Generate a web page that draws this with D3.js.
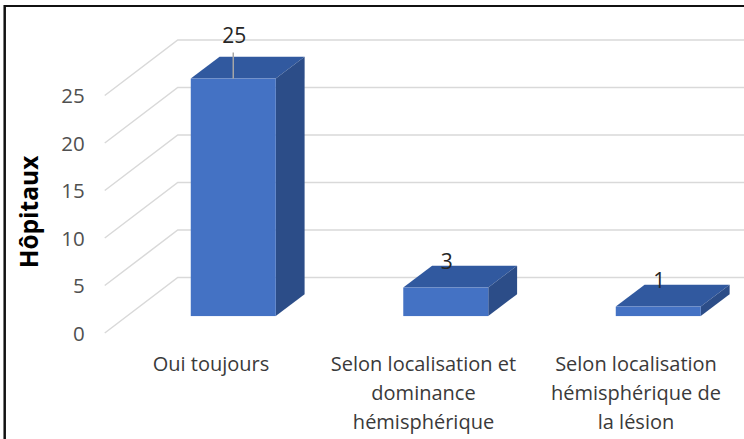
<!DOCTYPE html>
<html>
<head>
<meta charset="utf-8">
<script src="https://cdn.jsdelivr.net/npm/d3@7"></script>
<style>
  html, body { margin: 0; padding: 0; background: #fff; }
  svg { display: block; }
</style>
</head>
<body>
<svg id="chart" width="744" height="439"></svg>
<script>
// Réponses des hôpitaux
const categories = [
  ["Oui toujours"],
  ["Selon localisation et", "dominance", "hémisphérique"],
  ["Selon localisation", "hémisphérique de", "la lésion"]
];
const values = [25, 3, 1];
const yTicks = [0, 5, 10, 15, 20, 25];
const axisTitle = "Hôpitaux";

const svg = d3.select("#chart");

// Oblique projection: depth 0 = front plane, depth 1 = back wall
const DEPTH_DX = 73, DEPTH_DY = -55.5;
const BAR_D0 = 0.305, BAR_D1 = 0.70;
const proj = (x, y, d) => [x + d * DEPTH_DX, y + d * DEPTH_DY];

const x = d3.scaleBand()
  .domain(d3.range(categories.length))
  .range([104.75, 742.25]);
const barW = x.bandwidth() * 0.4;

const y = d3.scaleLinear().domain([0, 25]).range([333, 95.5]);

// Frame
svg.append("line").attr("x1", 4.5).attr("x2", 744).attr("y1", 6).attr("y2", 6)
  .attr("stroke", "#111").attr("stroke-width", 2);
svg.append("line").attr("x1", 4.7).attr("x2", 4.7).attr("y1", 5).attr("y2", 439)
  .attr("stroke", "#111").attr("stroke-width", 2.5);

// Gridlines: side wall diagonals and back wall horizontals
const x0 = x.range()[0];
const grid = svg.append("g").attr("stroke", "#d9d9d9").attr("stroke-width", 1.5).attr("fill", "none");
yTicks.forEach(t => {
  const [bx, by] = proj(x0, y(t), 1);
  const [ex] = proj(x.range()[1], y(t), 1);
  grid.append("path").attr("d", `M${x0},${y(t)}L${bx},${by}L${ex},${by}`);
});

// Y axis labels on the front plane
const yAxis = d3.axisLeft(y).tickValues(yTicks).tickSize(0).tickPadding(20);
const ag = svg.append("g").attr("transform", `translate(${x0},0)`).call(yAxis);
ag.select(".domain").remove();
ag.selectAll("text")
  .attr("font-family", "'Open Sans', sans-serif")
  .attr("font-size", 20.5)
  .attr("fill", "#505050")
  .attr("dy", "0.36em");

// Axis title
svg.append("text")
  .attr("transform", "translate(38,212) rotate(-90)")
  .attr("text-anchor", "middle")
  .attr("font-family", "'Open Sans', sans-serif")
  .attr("font-weight", "bold")
  .attr("font-size", 24.5)
  .attr("fill", "#000")
  .text(axisTitle);

// 3D columns
const bars = svg.append("g");
values.forEach((v, i) => {
  const cx = x(i) + x.bandwidth() / 2;
  const l = cx - barW / 2, r = cx + barW / 2;
  const top = y(v), bot = y(0);
  const P = (px, py, d) => proj(px, py, d).join(",");
  // top face
  bars.append("path")
    .attr("d", `M${P(l, top, BAR_D0)}L${P(r, top, BAR_D0)}L${P(r, top, BAR_D1)}L${P(l, top, BAR_D1)}Z`)
    .attr("fill", "#31599f");
  // right side face
  bars.append("path")
    .attr("d", `M${P(r, top, BAR_D0)}L${P(r, bot, BAR_D0)}L${P(r, bot, BAR_D1)}L${P(r, top, BAR_D1)}Z`)
    .attr("fill", "#2c4d88");
  // front face
  const [fl, ft] = proj(l, top, BAR_D0);
  const [fr, fb] = proj(r, bot, BAR_D0);
  bars.append("rect")
    .attr("x", fl).attr("y", ft).attr("width", fr - fl).attr("height", fb - ft)
    .attr("fill", "#4472c4");
});

// Data labels; the tallest one sits above the back wall with a leader line
const maxV = d3.max(values);
const topBack = proj(x0, y(yTicks[yTicks.length - 1]), 1)[1];
values.forEach((v, i) => {
  const cx = x(i) + x.bandwidth() / 2;
  const [lx, ly] = proj(cx, y(v), BAR_D0);
  let base = ly - 18.6;
  if (v === maxV) {
    base = topBack + 2.5;
    svg.append("line")
      .attr("x1", lx).attr("x2", lx).attr("y1", base + 10).attr("y2", ly)
      .attr("stroke", "#a6a6a6").attr("stroke-width", 1.5);
  }
  svg.append("text")
    .attr("x", lx + 1).attr("y", base)
    .attr("text-anchor", "middle")
    .attr("font-family", "'Open Sans', sans-serif")
    .attr("font-size", 21)
    .attr("fill", "#262626")
    .text(v);
});

// Category labels
categories.forEach((lines, i) => {
  const cx = x(i) + x.bandwidth() / 2;
  const t = svg.append("text")
    .attr("text-anchor", "middle")
    .attr("font-family", "'Open Sans', sans-serif")
    .attr("font-size", 20)
    .attr("fill", "#3a3a3a");
  lines.forEach((s, k) => {
    t.append("tspan").attr("x", cx).attr("y", 371 + k * 29).text(s);
  });
});
</script>
</body>
</html>
